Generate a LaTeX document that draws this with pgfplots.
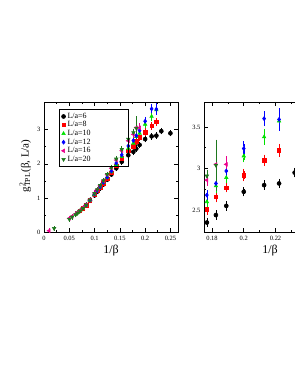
\documentclass[border=0pt]{standalone}
\usepackage{fontspec}
\setmainfont{Liberation Serif}
\usepackage{pgfplots}
\pgfplotsset{compat=1.18}
\usepackage{pgfplotstable}
\definecolor{cgreen}{RGB}{0,225,0}
\definecolor{cdkgreen}{RGB}{30,120,30}

\pgfplotstableread{
x y e
0.0909 0.93 0.01
0.1000 1.08 0.01
0.1053 1.19 0.01
0.1111 1.29 0.01
0.1176 1.40 0.015
0.1250 1.54 0.015
0.1333 1.69 0.015
0.1429 1.87 0.02
0.1538 2.06 0.02
0.1667 2.25 0.025
0.1768 2.35 0.03
0.1825 2.44 0.03
0.1890 2.55 0.03
0.2000 2.72 0.03
0.2128 2.80 0.03
0.2222 2.82 0.03
0.2320 2.95 0.03
0.2500 2.89 0.03
}\tabA
\pgfplotstableread{
x y e
0.0714 0.64 0.01
0.0769 0.70 0.01
0.0833 0.79 0.01
0.0909 0.94 0.01
0.1000 1.11 0.01
0.1053 1.21 0.01
0.1111 1.31 0.01
0.1176 1.43 0.015
0.1250 1.57 0.015
0.1333 1.74 0.015
0.1429 1.94 0.02
0.1538 2.16 0.02
0.1667 2.38 0.03
0.1768 2.51 0.04
0.1825 2.66 0.04
0.1890 2.77 0.03
0.2000 2.92 0.05
0.2128 3.10 0.04
0.2222 3.22 0.05
}\tabB
\pgfplotstableread{
x y e
0.0625 0.53 0.01
0.0667 0.58 0.01
0.0714 0.64 0.01
0.0769 0.71 0.01
0.0833 0.79 0.01
0.0909 0.94 0.01
0.1000 1.11 0.01
0.1053 1.22 0.01
0.1111 1.32 0.015
0.1176 1.45 0.015
0.1250 1.60 0.015
0.1333 1.77 0.02
0.1429 1.98 0.02
0.1538 2.21 0.03
0.1667 2.45 0.04
0.1768 2.60 0.05
0.1825 2.79 0.06
0.1890 2.89 0.04
0.2000 3.15 0.05
0.2128 3.38 0.07
0.2222 3.57 0.07
}\tabC
\pgfplotstableread{
x y e
0.0833 0.80 0.01
0.0909 0.94 0.01
0.1000 1.12 0.01
0.1053 1.22 0.01
0.1111 1.33 0.015
0.1176 1.46 0.015
0.1250 1.61 0.015
0.1333 1.79 0.02
0.1429 2.02 0.02
0.1538 2.26 0.03
0.1667 2.52 0.03
0.1768 2.68 0.03
0.1825 2.82 0.06
0.1890 2.97 0.05
0.2000 3.24 0.06
0.2128 3.60 0.065
0.2222 3.59 0.11
}\tabD
\pgfplotstableread{
x y e
0.0100 0.05 0.005
0.0500 0.41 0.01
0.0556 0.47 0.01
0.0625 0.54 0.01
0.0667 0.59 0.01
0.0714 0.65 0.01
0.0769 0.72 0.01
0.0833 0.81 0.01
0.0909 0.96 0.01
0.1000 1.15 0.01
0.1053 1.25 0.015
0.1111 1.37 0.015
0.1176 1.51 0.015
0.1250 1.68 0.02
0.1333 1.87 0.02
0.1429 2.11 0.03
0.1538 2.38 0.03
0.1667 2.67 0.04
0.1768 2.86 0.04
0.1825 3.05 0.05
0.1890 3.05 0.07
}\tabE
\pgfplotstableread{
x y e
0.0200 0.12 0.005
0.0500 0.39 0.01
0.0556 0.45 0.01
0.0625 0.52 0.01
0.0667 0.57 0.01
0.0714 0.63 0.01
0.0769 0.70 0.01
0.0833 0.80 0.01
0.0909 0.95 0.01
0.1000 1.14 0.01
0.1053 1.25 0.015
0.1111 1.37 0.015
0.1176 1.51 0.02
0.1250 1.69 0.02
0.1333 1.89 0.02
0.1429 2.14 0.03
0.1538 2.42 0.04
0.1667 2.72 0.04
0.1768 2.91 0.05
0.1825 3.04 0.28
}\tabF

\pgfplotsset{
  base/.style={
    scale only axis, anchor=south west,
    tick align=inside, xtick pos=both, ytick pos=both,
    major tick length=4bp, minor tick length=2bp,
    axis line style={line width=0.8pt},
    every tick/.style={black, line width=0.6pt},
    tick label style={font=\fontsize{6.5}{7}\selectfont},
    /pgf/number format/assume math mode=true,
    scaled ticks=false,
    xlabel={1/β},
    xlabel style={font=\fontsize{12}{14}\selectfont, yshift=2bp},
    minor x tick num=1, minor y tick num=1,
  },
  ser/.style={only marks, mark size=2pt, line width=0.6pt,
    error bars/y dir=both, error bars/y explicit,
    error bars/error mark=-,
    error bars/error mark options={mark size=2.2pt, line width=0.6pt}},
}

\begin{document}
\begin{tikzpicture}
\useasboundingbox (0,0) rectangle (295bp,382bp);
\clip (0,0) rectangle (295bp,382bp);
\begin{axis}[base, at={(44bp,149.5bp)}, width=134bp, height=130.5bp,
  xmin=0, xmax=0.265, ymin=0, ymax=3.8,
  xtick={0,0.05,0.1,0.15,0.2,0.25},
  xticklabels={0,0.05,0.1,0.15,0.2,0.25},
  ytick={0,1,2,3},
  ylabel={g\rlap{\textsuperscript{2}}\textsubscript{TPL}(β, L/a)},
  ylabel style={font=\fontsize{11}{13}\selectfont, at={(axis description cs:-0.14,0.51)}, anchor=center},
  legend style={at={(0.114,0.944)}, anchor=north west, draw=black, fill=none, line width=0.6pt,
    font=\fontsize{8}{8.5}\selectfont, row sep=-2.2pt, inner xsep=2pt, inner ysep=1.5pt},
  legend cell align=left,
  legend image code/.code={\draw[mark repeat=2,mark phase=2,#1] plot coordinates {(0cm,0cm) (0.2cm,0cm) (0.4cm,0cm)};},
]
\addplot[ser, black, mark=*] table[x=x,y=y,y error=e]{\tabA};
\addlegendentry{\makebox[57bp][l]{L/a=6}}
\addplot[ser, red, mark=square*, mark size=1.7pt] table[x=x,y=y,y error=e]{\tabB};
\addlegendentry{L/a=8}
\addplot[ser, cgreen, mark=triangle*] table[x=x,y=y,y error=e]{\tabC};
\addlegendentry{L/a=10}
\addplot[ser, blue, mark=diamond*] table[x=x,y=y,y error=e]{\tabD};
\addlegendentry{L/a=12}
\addplot[ser, magenta, mark=triangle*, mark options={rotate=90}] table[x=x,y=y,y error=e]{\tabE};
\addlegendentry{L/a=16}
\addplot[ser, cdkgreen, mark=triangle*, mark options={rotate=180}] table[x=x,y=y,y error=e]{\tabF};
\addlegendentry{L/a=20}
\end{axis}
\begin{axis}[base, at={(204bp,149.5bp)}, width=132bp, height=130.5bp,
  xmin=0.175, xmax=0.258, ymin=2.23, ymax=3.8,
  xtick={0.18,0.2,0.22,0.24},
  xticklabels={0.18,0.2,0.22,{}},
  ytick={2.5,3,3.5},
  yticklabels={2.5,3,3.5},
]
\addplot[ser, black, mark=*] table[x=x,y=y,y error=e]{\tabA};
\addplot[ser, red, mark=square*, mark size=1.7pt] table[x=x,y=y,y error=e]{\tabB};
\addplot[ser, cgreen, mark=triangle*] table[x=x,y=y,y error=e]{\tabC};
\addplot[ser, blue, mark=diamond*] table[x=x,y=y,y error=e]{\tabD};
\addplot[ser, magenta, mark=triangle*, mark options={rotate=90}] table[x=x,y=y,y error=e]{\tabE};
\addplot[ser, cdkgreen, mark=triangle*, mark options={rotate=180}] table[x=x,y=y,y error=e]{\tabF};
\end{axis}
\end{tikzpicture}
\end{document}
